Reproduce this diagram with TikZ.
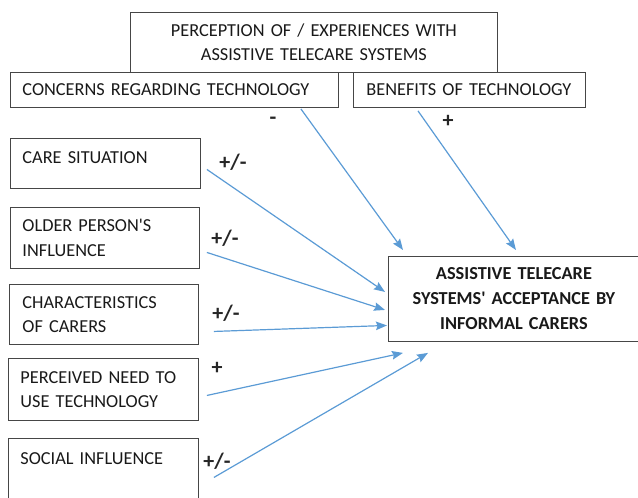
\documentclass[tikz,border=0pt]{standalone}
\usepackage{fontspec}
\setmainfont{Carlito}
\usetikzlibrary{arrows.meta,calc}

\definecolor{linkblue}{RGB}{91,155,213}
\definecolor{boxgray}{RGB}{70,70,70}

\tikzset{
  box/.style={draw=boxgray, line width=0.9pt, rectangle, anchor=north west,
    inner ysep=0pt, align=left,
    font=\fontsize{18.3}{24.5}\selectfont, text=black!90},
  link/.style={draw=linkblue, line width=1.2pt,
    -{Stealth[length=11pt,width=8.5pt,inset=1.5pt]}},
  sign/.style={font=\fontsize{22}{24}\selectfont\bfseries, text=black!85}
}

\begin{document}
\begin{tikzpicture}[x=1pt,y=-1pt]
\useasboundingbox (0,0) rectangle (638,498);

% Perception box with its two sub-boxes
\node[box, align=center, minimum width=367pt, minimum height=60pt, text width=360pt,
      inner xsep=0pt] (percept) at (130,12)
  {PERCEPTION OF / EXPERIENCES WITH\\ASSISTIVE TELECARE SYSTEMS};
\node[box, minimum width=328pt, minimum height=35pt, inner xsep=12pt, text width=304pt]
  (concerns) at (10,72) {CONCERNS REGARDING TECHNOLOGY};
\node[box, minimum width=232pt, minimum height=35pt, inner xsep=13pt, text width=206pt]
  (benefits) at (353,72) {BENEFITS OF TECHNOLOGY};

% Factors on the left
\node[box, minimum width=190pt, minimum height=50pt, inner xsep=12pt, text width=166pt,
      text depth=12pt] (care) at (10,138) {CARE SITUATION};
\node[box, minimum width=189pt, minimum height=61pt, inner xsep=12pt, text width=165pt]
  (older) at (10,207) {OLDER PERSON\textquotesingle S\\INFLUENCE};
\node[box, minimum width=189pt, minimum height=60pt, inner xsep=13pt, text width=163pt]
  (carers) at (9,284) {CHARACTERISTICS\\OF CARERS};
\node[box, minimum width=190pt, minimum height=62pt, inner xsep=12pt, text width=166pt]
  (need) at (8,358) {PERCEIVED NEED TO\\USE TECHNOLOGY};
\node[box, minimum width=190pt, minimum height=62pt, inner xsep=12pt, text width=166pt,
      text depth=22pt] (social) at (8,438) {SOCIAL INFLUENCE};

% Outcome
\node[box, align=center, minimum width=251pt, minimum height=85pt, text width=240pt,
      inner xsep=0pt, font=\fontsize{18.3}{25}\selectfont\bfseries] (accept) at (388,256)
  {ASSISTIVE TELECARE\\SYSTEMS\textquotesingle{} ACCEPTANCE BY\\INFORMAL CARERS};

% Start points of the arrows
\coordinate (concerns-out) at ($(concerns.south east)+(-38,1)$);
\coordinate (benefits-out) at ($(benefits.south west)+(65,3)$);
\coordinate (care-out) at ($(care.east)+(6,6)$);
\coordinate (older-out) at ($(older.east)+(7,14.5)$);
\coordinate (carers-out) at ($(carers.east)+(15,17)$);
\coordinate (need-out) at ($(need.east)+(8,6)$);
\coordinate (social-out) at ($(social.east)+(15,8)$);

% Arrows into the outcome box
\draw[link] (concerns-out) -- ($(accept.north west)+(15,-6)$);
\draw[link] (benefits-out) -- ($(accept.north)+(2,-6)$);
\draw[link] (care-out) -- ($(accept.west)+(-3,-7)$);
\draw[link] (older-out) -- ($(accept.west)+(-3,11)$);
\draw[link] (carers-out) -- ($(accept.west)+(-1,26.5)$);
\draw[link] (need-out) -- ($(accept.south west)+(15,11)$);
\draw[link] (social-out) -- ($(accept.south west)+(40,11)$);

% Signs of the effects
\node[sign] (s-concerns) at (273,121) {-};
\node[sign] (s-benefits) at (448,121) {+};
\node[sign] (s-care) at (233,162) {+/-};
\node[sign] (s-older) at (225,238) {+/-};
\node[sign] (s-carers) at (226,313) {+/-};
\node[sign] (s-need) at (217,368) {+};
\node[sign] (s-social) at (217,461) {+/-};

\end{tikzpicture}
\end{document}
